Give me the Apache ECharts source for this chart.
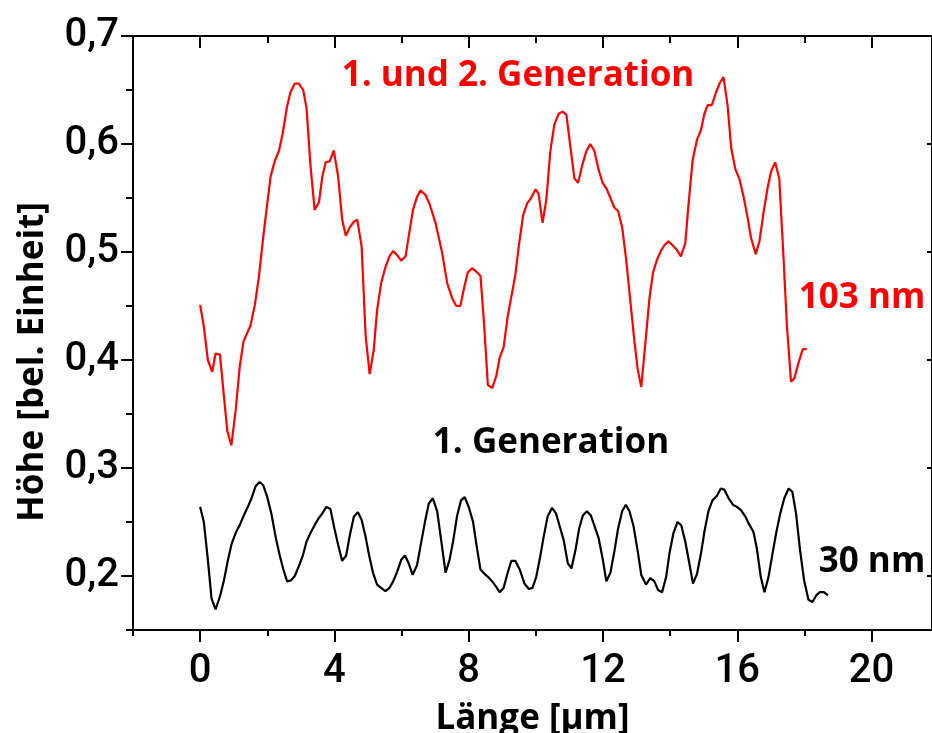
<!DOCTYPE html>
<html>
<head>
<meta charset="utf-8">
<script src="https://cdn.jsdelivr.net/npm/echarts@6/dist/echarts.min.js"></script>
<style>
  html, body { margin: 0; padding: 0; background: #fff; }
  #chart { width: 932px; height: 733px; }
</style>
</head>
<body>
<div id="chart"></div>
<script>
// Height profile, 1st and 2nd generation (red): [length µm, height]
const profileGen12 = [
  [0.00,0.451],[0.11,0.431],[0.23,0.400],[0.36,0.389],[0.46,0.406],[0.59,0.405],
  [0.71,0.366],[0.81,0.334],[0.93,0.321],[1.06,0.354],[1.18,0.394],[1.29,0.417],
  [1.50,0.432],[1.63,0.451],[1.75,0.477],[1.88,0.514],[2.00,0.545],[2.10,0.570],
  [2.22,0.584],[2.35,0.594],[2.46,0.610],[2.59,0.635],[2.69,0.648],[2.82,0.656],
  [2.94,0.656],[3.07,0.650],[3.17,0.633],[3.29,0.579],[3.41,0.539],[3.54,0.546],
  [3.64,0.570],[3.74,0.583],[3.86,0.584],[3.98,0.594],[4.11,0.570],[4.23,0.530],
  [4.34,0.515],[4.46,0.523],[4.58,0.528],[4.68,0.530],[4.81,0.505],[4.93,0.422],
  [5.05,0.387],[5.17,0.409],[5.27,0.446],[5.39,0.471],[5.52,0.486],[5.64,0.496],
  [5.75,0.501],[5.87,0.497],[5.99,0.492],[6.12,0.496],[6.21,0.514],[6.34,0.539],
  [6.46,0.551],[6.56,0.557],[6.71,0.553],[6.84,0.544],[7.01,0.527],[7.21,0.499],
  [7.36,0.471],[7.51,0.457],[7.63,0.450],[7.75,0.450],[7.85,0.465],[7.97,0.481],
  [8.10,0.485],[8.22,0.482],[8.35,0.478],[8.45,0.437],[8.57,0.377],[8.70,0.374],
  [8.82,0.385],[8.92,0.402],[9.04,0.412],[9.16,0.440],[9.29,0.462],[9.39,0.479],
  [9.49,0.505],[9.62,0.534],[9.74,0.545],[9.86,0.550],[9.99,0.558],[10.08,0.554],
  [10.20,0.527],[10.31,0.548],[10.43,0.593],[10.55,0.618],[10.68,0.628],[10.80,0.630],
  [10.91,0.627],[11.03,0.597],[11.15,0.568],[11.26,0.564],[11.37,0.579],[11.50,0.593],
  [11.62,0.600],[11.74,0.594],[11.87,0.576],[11.99,0.564],[12.10,0.559],[12.22,0.550],
  [12.34,0.541],[12.45,0.538],[12.57,0.523],[12.69,0.493],[12.81,0.456],[12.93,0.419],
  [13.03,0.392],[13.14,0.375],[13.26,0.415],[13.38,0.456],[13.49,0.481],[13.61,0.493],
  [13.74,0.502],[13.85,0.507],[13.95,0.510],[14.08,0.506],[14.20,0.502],[14.32,0.496],
  [14.45,0.508],[14.55,0.545],[14.67,0.585],[14.80,0.604],[14.92,0.613],[15.02,0.628],
  [15.12,0.636],[15.24,0.636],[15.36,0.647],[15.47,0.656],[15.59,0.662],[15.71,0.636],
  [15.82,0.596],[15.94,0.577],[16.07,0.567],[16.19,0.551],[16.30,0.533],[16.41,0.513],
  [16.55,0.498],[16.66,0.510],[16.78,0.536],[16.90,0.559],[17.01,0.575],[17.13,0.583],
  [17.25,0.568],[17.36,0.505],[17.48,0.431],[17.60,0.380],[17.70,0.383],[17.82,0.397],
  [17.95,0.410],[18.07,0.410]
];

// Height profile, 1st generation (black): [length µm, height]
const profileGen1 = [
  [0.00,0.264],[0.11,0.250],[0.23,0.215],[0.34,0.179],[0.46,0.169],[0.59,0.181],
  [0.71,0.196],[0.83,0.215],[0.94,0.230],[1.06,0.240],[1.19,0.248],[1.30,0.256],
  [1.42,0.264],[1.53,0.272],[1.65,0.283],[1.77,0.287],[1.88,0.284],[2.00,0.273],
  [2.12,0.258],[2.25,0.236],[2.37,0.219],[2.48,0.206],[2.59,0.195],[2.71,0.196],
  [2.82,0.200],[2.94,0.209],[3.06,0.219],[3.17,0.232],[3.29,0.240],[3.41,0.247],
  [3.52,0.253],[3.64,0.258],[3.76,0.264],[3.88,0.262],[4.00,0.244],[4.11,0.229],
  [4.23,0.214],[4.35,0.219],[4.46,0.238],[4.58,0.255],[4.70,0.259],[4.81,0.252],
  [4.93,0.236],[5.04,0.218],[5.15,0.203],[5.27,0.192],[5.39,0.189],[5.52,0.186],
  [5.64,0.189],[5.75,0.195],[5.87,0.204],[5.99,0.215],[6.10,0.219],[6.21,0.212],
  [6.33,0.201],[6.46,0.210],[6.56,0.227],[6.69,0.249],[6.81,0.267],[6.93,0.272],
  [7.06,0.260],[7.18,0.233],[7.31,0.203],[7.43,0.215],[7.54,0.233],[7.65,0.255],
  [7.77,0.270],[7.88,0.273],[8.00,0.264],[8.13,0.250],[8.23,0.229],[8.35,0.206],
  [8.47,0.202],[8.58,0.199],[8.70,0.195],[8.82,0.190],[8.92,0.185],[9.04,0.189],
  [9.16,0.203],[9.27,0.214],[9.39,0.214],[9.52,0.206],[9.66,0.193],[9.79,0.188],
  [9.90,0.189],[10.01,0.199],[10.13,0.218],[10.23,0.236],[10.35,0.255],[10.48,0.263],
  [10.60,0.258],[10.71,0.246],[10.83,0.233],[10.95,0.212],[11.06,0.207],[11.18,0.224],
  [11.29,0.244],[11.40,0.256],[11.52,0.260],[11.64,0.256],[11.75,0.246],[11.87,0.235],
  [11.99,0.216],[12.10,0.195],[12.22,0.203],[12.34,0.223],[12.45,0.244],[12.57,0.260],
  [12.68,0.266],[12.79,0.260],[12.91,0.246],[13.03,0.224],[13.14,0.201],[13.28,0.192],
  [13.41,0.198],[13.53,0.195],[13.64,0.187],[13.76,0.185],[13.88,0.199],[13.98,0.221],
  [14.10,0.240],[14.22,0.250],[14.33,0.247],[14.45,0.232],[14.57,0.212],[14.68,0.193],
  [14.80,0.202],[14.92,0.221],[15.02,0.241],[15.14,0.260],[15.26,0.270],[15.39,0.274],
  [15.51,0.281],[15.61,0.280],[15.74,0.272],[15.87,0.266],[15.99,0.264],[16.11,0.261],
  [16.24,0.255],[16.35,0.248],[16.48,0.241],[16.58,0.226],[16.70,0.199],[16.81,0.185],
  [16.93,0.199],[17.05,0.221],[17.16,0.240],[17.28,0.258],[17.40,0.272],[17.53,0.281],
  [17.64,0.278],[17.75,0.258],[17.87,0.224],[17.99,0.196],[18.12,0.178],[18.24,0.176],
  [18.35,0.182],[18.46,0.185],[18.58,0.185],[18.70,0.182]
];

// Axis ticks and their labels
const xMajorTicks = [0, 4, 8, 12, 16, 20];
const xMinorTicks = [-2, 2, 6, 10, 14, 18];
const yMajorTicks = [0.2, 0.3, 0.4, 0.5, 0.6, 0.7];
const yMinorTicks = [0.15, 0.25, 0.35, 0.45, 0.55, 0.65];
const yTickLabels = ['0,2', '0,3', '0,4', '0,5', '0,6', '0,7'];

const X_MIN = -2, X_MAX = 21.8, Y_MIN = 0.15, Y_MAX = 0.7;

const chart = echarts.init(document.getElementById('chart'));

const axisLineStyle = { show: true, onZero: false, lineStyle: { color: '#000', width: 2 } };
const noLine = { show: false, onZero: false };
const tickFont = { color: '#000', fontFamily: 'Roboto', fontWeight: 500, fontSize: 40 };
const textFont = 'bold 35px "Open Sans"';

function xAxisDef(position, ticks, len, inside, withLine, withLabels) {
  return {
    type: 'value', position: position, min: X_MIN, max: X_MAX,
    axisLine: withLine ? axisLineStyle : noLine,
    splitLine: { show: false },
    axisTick: { show: true, inside: inside, length: len, customValues: ticks,
                lineStyle: { color: '#000', width: 2 } },
    axisLabel: withLabels
      ? Object.assign({ show: true, margin: 22, customValues: ticks }, tickFont)
      : { show: false }
  };
}

function yAxisDef(position, ticks, len, inside, withLine, withLabels) {
  return {
    type: 'value', position: position, min: Y_MIN, max: Y_MAX,
    axisLine: withLine ? axisLineStyle : noLine,
    splitLine: { show: false },
    axisTick: { show: true, inside: inside, length: len, customValues: ticks,
                lineStyle: { color: '#000', width: 2 } },
    axisLabel: withLabels
      ? Object.assign({
          show: true, margin: 14, customValues: ticks,
          formatter: function (v) {
            const i = yMajorTicks.findIndex(t => Math.abs(t - v) < 1e-6);
            return i >= 0 ? yTickLabels[i] : '';
          }
        }, tickFont)
      : { show: false }
  };
}

const xBottom = xAxisDef('bottom', xMajorTicks, 12, false, true, true);
xBottom.name = 'Länge [µm]';
xBottom.nameLocation = 'middle';
xBottom.nameGap = 72;
xBottom.nameTextStyle = { color: '#000', fontFamily: 'Open Sans', fontWeight: 'bold', fontSize: 35 };

chart.setOption({
  animation: false,
  backgroundColor: '#fff',
  grid: { left: 133, top: 36, width: 799, height: 594, containLabel: false, outerBoundsMode: 'none' },
  xAxis: [
    xBottom,
    xAxisDef('bottom', xMinorTicks, 6, false, false, false),
    xAxisDef('top', xMajorTicks, 12, true, true, false),
    xAxisDef('top', xMinorTicks, 7, true, false, false)
  ],
  yAxis: [
    yAxisDef('left', yMajorTicks, 12, false, true, true),
    yAxisDef('left', yMinorTicks, 7, false, false, false),
    yAxisDef('right', yMajorTicks, 5, true, true, false)
  ],
  series: [
    {
      type: 'line', data: profileGen12, xAxisIndex: 0, yAxisIndex: 0,
      showSymbol: false, lineStyle: { color: '#ff0000', width: 2.2 }
    },
    {
      type: 'line', data: profileGen1, xAxisIndex: 0, yAxisIndex: 0,
      showSymbol: false, lineStyle: { color: '#000000', width: 2.2 }
    }
  ],
  graphic: [
    {
      type: 'text', x: 33, y: 362, rotation: Math.PI / 2,
      style: { text: 'Höhe [bel. Einheit]', textAlign: 'center', textVerticalAlign: 'middle',
               font: textFont, fill: '#000' }
    },
    {
      type: 'text', x: 518, y: 76,
      style: { text: '1. und 2. Generation', textAlign: 'center', textVerticalAlign: 'middle',
               font: textFont, fill: '#ff0000' }
    },
    {
      type: 'text', x: 551, y: 443,
      style: { text: '1. Generation', textAlign: 'center', textVerticalAlign: 'middle',
               font: textFont, fill: '#000' }
    },
    {
      type: 'text', x: 862, y: 298,
      style: { text: '103 nm', textAlign: 'center', textVerticalAlign: 'middle',
               font: textFont, fill: '#ff0000' }
    },
    {
      type: 'text', x: 872, y: 562,
      style: { text: '30 nm', textAlign: 'center', textVerticalAlign: 'middle',
               font: textFont, fill: '#000' }
    }
  ]
});
</script>
</body>
</html>
